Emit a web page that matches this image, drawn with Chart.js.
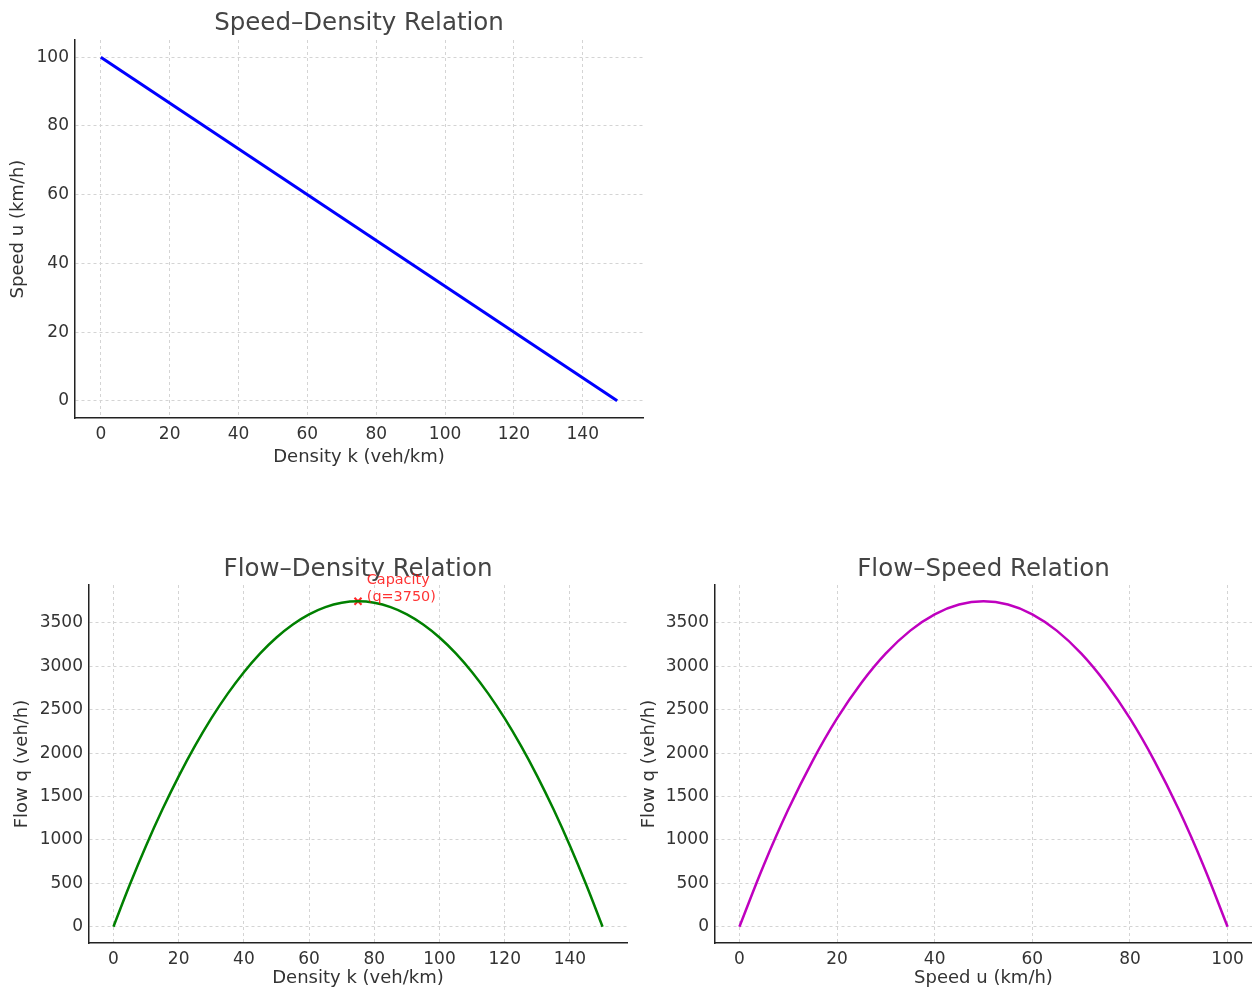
<!DOCTYPE html>
<html>
<head>
<meta charset="utf-8">
<script src="https://cdn.jsdelivr.net/npm/chart.js@4"></script>
<style>
  html, body { margin: 0; padding: 0; background: #fff; overflow: hidden; }
  body { width: 1252px; height: 989px; position: relative; }
  canvas { position: absolute; }
</style>
</head>
<body>
<canvas id="speedDensity" width="660" height="480" style="left:0;top:0"></canvas>
<canvas id="flowDensity" width="640" height="439" style="left:0;top:550px"></canvas>
<canvas id="flowSpeed" width="622" height="439" style="left:630px;top:550px"></canvas>
<script>
// speed-density line (straight, so two ends are enough)
const sdDensity = [0, 150];
const sdSpeed = [100, 0];

// flow-density curve, read every 5 veh/km
const fdDensity = [0, 5, 10, 15, 20, 25, 30, 35, 40, 45, 50, 55, 60, 65, 70, 75,
  80, 85, 90, 95, 100, 105, 110, 115, 120, 125, 130, 135, 140, 145, 150];
const fdFlow = [0, 483, 933, 1350, 1733, 2083, 2400, 2683, 2933, 3150, 3333, 3483, 3600, 3683, 3733, 3750,
  3733, 3683, 3600, 3483, 3333, 3150, 2933, 2683, 2400, 2083, 1733, 1350, 933, 483, 0];

// flow-speed curve, read every 5 km/h
const fsSpeed = [0, 5, 10, 15, 20, 25, 30, 35, 40, 45, 50,
  55, 60, 65, 70, 75, 80, 85, 90, 95, 100];
const fsFlow = [0, 712, 1350, 1912, 2400, 2812, 3150, 3412, 3600, 3712, 3750,
  3712, 3600, 3412, 3150, 2812, 2400, 1912, 1350, 712, 0];

// capacity point
const capDensity = 75;
const capFlow = 3750;
const capLabel = ["Capacity", "(q=3750)"];

// tick labels
const densityTicks = [0, 20, 40, 60, 80, 100, 120, 140];
const speedTicksY = [0, 20, 40, 60, 80, 100];
const speedTicksX = [0, 20, 40, 60, 80, 100];
const flowTicks = [0, 500, 1000, 1500, 2000, 2500, 3000, 3500];

const FONT = "'DejaVu Sans', sans-serif";
const TEXT = "#333";

function pairs(xs, ys) {
  return xs.map((x, i) => ({ x: x, y: ys[i] }));
}

function axis(opts) {
  return {
    type: "linear",
    min: opts.min,
    max: opts.max,
    afterBuildTicks: s => { s.ticks = opts.ticks.map(v => ({ value: v })); },
    afterFit: s => {
      if (opts.width) s.width = opts.width;
      if (opts.height) s.height = opts.height;
    },
    grid: { color: "#d4d4d4", lineWidth: 1, drawTicks: false },
    border: { display: true, color: "#222", width: 1.5, dash: [3, 3] },
    ticks: {
      color: TEXT,
      font: { family: FONT, size: 17 },
      padding: 6,
      maxRotation: 0,
      autoSkip: false,
      callback: v => String(v)
    },
    title: {
      display: true,
      text: opts.title,
      color: TEXT,
      font: { family: FONT, size: 18 },
      padding: opts.titlePad
    }
  };
}

function makeChart(id, cfg) {
  return new Chart(document.getElementById(id), {
    type: "line",
    data: { datasets: cfg.datasets },
    options: {
      responsive: false,
      animation: false,
      layout: { padding: { left: 0, right: cfg.padRight, top: 0, bottom: 0 } },
      plugins: {
        legend: { display: false },
        tooltip: { enabled: false },
        title: {
          display: true,
          fullSize: false,
          text: cfg.title,
          color: "#444",
          font: { family: FONT, size: 24.5, weight: "normal" },
          padding: cfg.titlePad
        }
      },
      scales: { x: cfg.x, y: cfg.y }
    },
    plugins: cfg.plugins || []
  });
}

makeChart("speedDensity", {
  title: "Speed\u2013Density Relation",
  titlePad: { top: 9.3, bottom: 1.3 },
  padRight: 17,
  datasets: [{
    data: pairs(sdDensity, sdSpeed),
    borderColor: "#0000ff",
    borderWidth: 3,
    pointRadius: 0,
    fill: false
  }],
  x: axis({ min: -7.5, max: 157.5, ticks: densityTicks, height: 62, title: "Density k (veh/km)", titlePad: { top: 0, bottom: 12 } }),
  y: axis({ min: -5, max: 105, ticks: speedTicksY, width: 75, title: "Speed u (km/h)", titlePad: { top: 7.2, bottom: 0 } })
});

const capacityText = {
  id: "capacityText",
  afterDatasetsDraw(chart) {
    const ctx = chart.ctx;
    const px = chart.scales.x.getPixelForValue(capDensity + 3);
    const py = chart.scales.y.getPixelForValue(capFlow);
    ctx.save();
    ctx.fillStyle = "rgba(255,0,0,0.8)";
    ctx.font = "14.4px " + FONT;
    ctx.textAlign = "left";
    ctx.textBaseline = "alphabetic";
    ctx.fillText(capLabel[1], px - 1, py);
    ctx.fillText(capLabel[0], px - 1, py - 17);
    ctx.restore();
  }
};

makeChart("flowDensity", {
  title: "Flow\u2013Density Relation",
  titlePad: { top: 5.3, bottom: 0.3 },
  padRight: 13,
  datasets: [{
    data: pairs(fdDensity, fdFlow),
    borderColor: "#008000",
    borderWidth: 2.5,
    pointRadius: 0,
    tension: 0.4,
    fill: false
  }, {
    data: [{ x: capDensity, y: capFlow }],
    showLine: false,
    pointStyle: "crossRot",
    pointRadius: 5,
    borderColor: "rgba(255,0,0,0.85)",
    borderWidth: 2
  }],
  x: axis({ min: -7.5, max: 157.5, ticks: densityTicks, height: 46, title: "Density k (veh/km)", titlePad: { top: 0, bottom: 0.2 } }),
  y: axis({ min: -187.5, max: 3937.5, ticks: flowTicks, width: 89, title: "Flow q (veh/h)", titlePad: { top: 11.2, bottom: 0 } }),
  plugins: [capacityText]
});

makeChart("flowSpeed", {
  title: "Flow\u2013Speed Relation",
  titlePad: { top: 5.3, bottom: 0.3 },
  padRight: 0,
  datasets: [{
    data: pairs(fsSpeed, fsFlow),
    borderColor: "#bf00bf",
    borderWidth: 2.5,
    pointRadius: 0,
    tension: 0.4,
    fill: false
  }],
  x: axis({ min: -5, max: 105, ticks: speedTicksX, height: 46, title: "Speed u (km/h)", titlePad: { top: 0, bottom: 0.2 } }),
  y: axis({ min: -187.5, max: 3937.5, ticks: flowTicks, width: 85, title: "Flow q (veh/h)", titlePad: { top: 8.2, bottom: 0 } })
});
</script>
</body>
</html>
